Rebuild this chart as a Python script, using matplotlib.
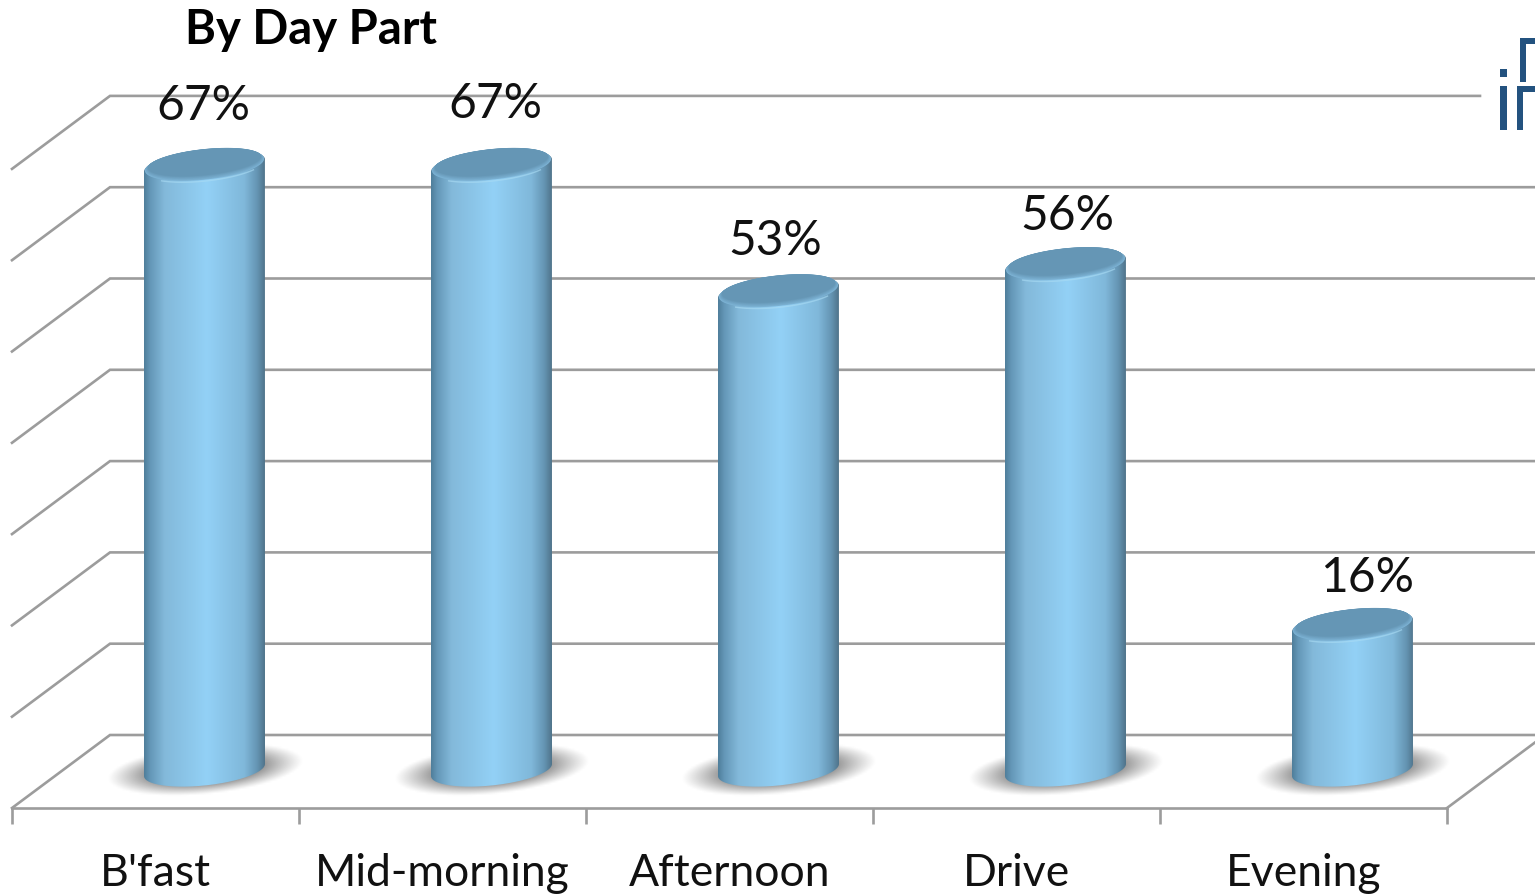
"""
Cylinder column chart: share by day part, on a 3D-style floor and back wall.
"""
import numpy as np
import matplotlib
matplotlib.use("Agg")
import matplotlib.pyplot as plt
from matplotlib.colors import LinearSegmentedColormap, to_rgb
from matplotlib.patches import PathPatch, Polygon, Rectangle
from matplotlib.path import Path

plt.rcParams["font.family"] = ["Lato", "DejaVu Sans"]

TITLE = "By Day Part"
CATEGORIES = ["B'fast", "Mid-morning", "Afternoon", "Drive", "Evening"]
VALUES = [67, 67, 53, 56, 16]
GRID_LEVELS = [0, 10, 20, 30, 40, 50, 60, 70]

# label nudges in pixels (dx, dy) from the top of each column
LABEL_OFFSETS = [(-1, 60), (4, 62), (-3, 51), (2, 49), (15, 48)]

W, H = 1535, 896
PX_X = 287.0   # pixels per category
PX_Y = 9.13    # pixels per percentage point
X0, Y0 = 12, 808   # pixel position of the front-left floor corner

DEPTH_X = 98 / PX_X
DEPTH_Y = 73 / PX_Y
BAR_SCALE = 0.988  # columns sit mid-depth, so they read slightly shorter

BAR_A = 60.5    # cylinder half width, px
BAR_B = 15.5    # ellipse half height, px
BAR_K = 0.10    # ellipse tilt
GRID_COLOR = "#9c9c9c"
NAVY = "#23527f"

body_cmap = LinearSegmentedColormap.from_list("body", [
    (0.00, "#4f7e9b"), (0.05, "#6497b7"), (0.17, "#83b9da"),
    (0.52, "#93d1f6"), (0.83, "#80b8da"), (0.94, "#6494b2"), (1.00, "#50748b"),
])


def ellipse_xy(cx, cy, shrink=0.0, lift=0.0, t0=0.0, t1=2 * np.pi):
    """Tilted ellipse in data units; sizes are given in pixels."""
    t = np.linspace(t0, t1, 120)
    a = BAR_A - shrink
    b = BAR_B - shrink * 0.6
    x = cx + a * np.cos(t) / PX_X
    y = cy + (b * np.sin(t) + BAR_K * a * np.cos(t) + lift) / PX_Y
    return x, y


def draw_shadow(ax, cx, cy):
    xs = np.arange(-110, 111, 2.0)
    ys = np.arange(-40, 41, 2.0)
    gx, gy = np.meshgrid(xs, ys)
    r = np.hypot(gx / 98.0, (gy - 0.09 * gx) / 25.0)
    alpha = np.clip((1 - r) / 0.42, 0, 1) ** 1.1 * 0.66
    rgba = np.zeros(gx.shape + (4,))
    rgba[..., :3] = 0.35
    rgba[..., 3] = alpha
    ax.imshow(rgba, origin="lower", aspect="auto", interpolation="bilinear", zorder=3,
              extent=(cx - 110 / PX_X, cx + 110 / PX_X, cy - 40 / PX_Y, cy + 40 / PX_Y))


def draw_cylinder(ax, cx, base, top):
    bx, by = ellipse_xy(cx, base, t0=np.pi, t1=2 * np.pi)
    tx, ty = ellipse_xy(cx, top, t0=0.0, t1=np.pi)
    outline = np.column_stack([np.r_[bx, tx], np.r_[by, ty]])
    clip = PathPatch(Path(np.r_[outline, outline[:1]]), transform=ax.transData,
                     facecolor="none", edgecolor="none")
    ax.add_patch(clip)
    grad = np.linspace(0, 1, 256).reshape(1, -1)
    im = ax.imshow(grad, cmap=body_cmap, aspect="auto", interpolation="bilinear", zorder=4,
                   extent=(cx - BAR_A / PX_X, cx + BAR_A / PX_X,
                           base - 30 / PX_Y, top + 30 / PX_Y))
    im.set_clip_path(clip)

    # bevelled cap: rim colour fading into the flat top face
    rim = np.array(to_rgb("#7fb6d8"))
    face = np.array(to_rgb("#6596b5"))
    n = 8
    for i in range(n):
        f = (i + 1) / n
        x, y = ellipse_xy(cx, top, shrink=0.5 + 3.5 * f, lift=0.5 + 3.0 * f)
        ax.add_patch(Polygon(np.column_stack([x, y]), closed=True, lw=0,
                             facecolor=rim + (face - rim) * f, zorder=5))
    x, y = ellipse_xy(cx, top, t0=1.25 * np.pi, t1=1.8 * np.pi)
    ax.plot(x, y, color="#aadcf4", lw=1.0, alpha=0.6, zorder=6)


fig = plt.figure(figsize=(W / 100, H / 100), dpi=100)
ax = fig.add_axes([0, 0, 1, 1])
ax.set_xlim(-X0 / PX_X, (W - X0) / PX_X)
ax.set_ylim((Y0 - H) / PX_Y, Y0 / PX_Y)
xlim, ylim = ax.get_xlim(), ax.get_ylim()

n_cat = len(CATEGORIES)
for level in GRID_LEVELS:
    # the top wall line stops short of the logo
    right = (1480 - X0) / PX_X if level == GRID_LEVELS[-1] else xlim[1]
    ax.plot([0, DEPTH_X, right], [level, level + DEPTH_Y, level + DEPTH_Y],
            color=GRID_COLOR, lw=1.9, zorder=1, solid_joinstyle="miter")
ax.plot([n_cat, n_cat + DEPTH_X], [0, DEPTH_Y], color=GRID_COLOR, lw=1.9, zorder=1)

# x axis along the front edge of the floor
for side in ("top", "left", "right"):
    ax.spines[side].set_visible(False)
ax.spines["bottom"].set_position(("data", 0))
ax.spines["bottom"].set_bounds(0, n_cat)
ax.spines["bottom"].set_color(GRID_COLOR)
ax.spines["bottom"].set_linewidth(1.9)
ax.set_yticks([])
ax.set_xticks(np.arange(n_cat + 1))
ax.set_xticklabels([])
ax.set_xticks(np.arange(n_cat) + 0.5, minor=True)
ax.set_xticklabels(CATEGORIES, minor=True, fontsize=32, color="#111111")
ax.tick_params(axis="x", which="major", length=11.5, width=1.9, color=GRID_COLOR)
ax.tick_params(axis="x", which="minor", length=0, pad=32.5)

for i, value in enumerate(VALUES):
    cx = i + 0.5 + DEPTH_X / 2
    base = DEPTH_Y / 2 + 1.5 / PX_Y
    top = base + value * BAR_SCALE
    draw_shadow(ax, cx, base)
    draw_cylinder(ax, cx, base, top)
    ax.annotate(f"{value}%", xy=(cx, top), xytext=LABEL_OFFSETS[i], textcoords="offset pixels",
                ha="center", va="center", fontsize=34.5, color="#111111", zorder=7)

ax.set_xlim(xlim)
ax.set_ylim(ylim)

fig.text(185 / W, 1 - 30 / H, TITLE, fontsize=34, fontweight="bold", color="black",
         ha="left", va="center")

# corner logo, cut off by the right edge of the figure
for x, y, w, h in [(1500, 69, 7, 8), (1500, 86, 7, 44), (1517, 86, 6, 44), (1517, 86, 18, 6),
                   (1520, 38, 6, 44), (1520, 38, 15, 6)]:
    fig.add_artist(Rectangle((x / W, 1 - (y + h) / H), w / W, h / H, transform=fig.transFigure,
                             facecolor=NAVY, edgecolor="none"))

fig.savefig("out.png", dpi=100)
plt.close(fig)
